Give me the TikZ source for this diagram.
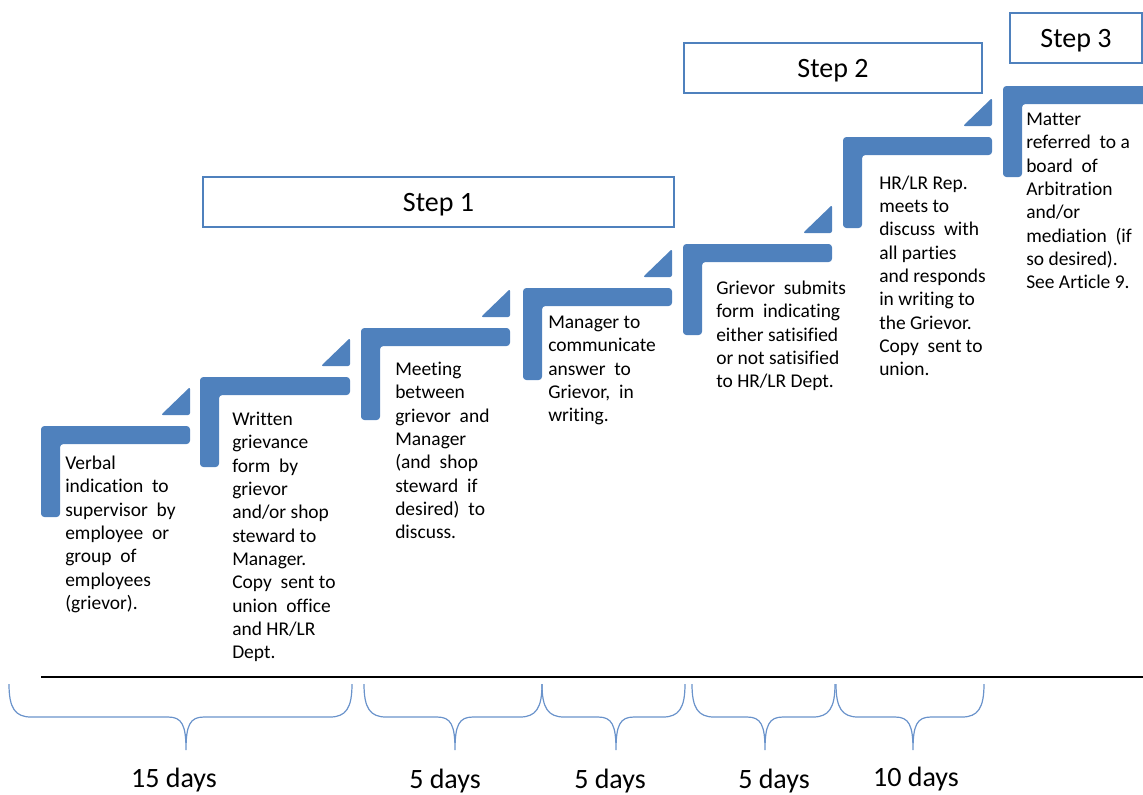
\documentclass[tikz,border=0pt]{standalone}
\usepackage{fontspec}
\setmainfont{Carlito}[Ligatures={NoCommon}]
\definecolor{ofblue}{HTML}{4F81BD}
\definecolor{brblue}{HTML}{6A93CB}
\newcommand\stairL[4]{%
  \fill[ofblue, rounded corners=2.5] (#1,#2) -- (#3,#2) -- (#3,#2+18) -- (#1+19,#2+18) -- (#1+19,#4) -- (#1,#4) -- cycle;}
\newcommand\stairT[2]{%
  \fill[ofblue, rounded corners=1.5] (#1-29,#2-11) -- (#1,#2-11) -- (#1,#2-39) -- cycle;}
\newcommand\brc[3]{%
  \draw[brace] (#1,684) .. controls (#1,708) and (#1+6,717) .. (#1+22,717) -- (#3-18,717)
     .. controls (#3-4,717) and (#3,725) .. (#3,750)
     .. controls (#3,725) and (#3+4,717) .. (#3+18,717) -- (#2-22,717)
     .. controls (#2-6,717) and (#2,708) .. (#2,684);}
\newcommand\fl{\rule{0pt}{11pt}}
\begin{document}
\begin{tikzpicture}[x=0.75pt,y=-0.75pt,
  txt/.style={anchor=north west, inner sep=0pt, align=left, font=\fontsize{14.6}{17.5}\selectfont},
  stepbox/.style={draw=ofblue, line width=0.8pt, fill=white, minimum height=37.5pt, inner sep=0pt,
     text height=15pt, text depth=1.2pt, font=\fontsize{21}{25}\selectfont},
  dayslbl/.style={anchor=base, inner sep=0pt, font=\fontsize{21}{25}\selectfont},
  brace/.style={draw=brblue, line width=0.9pt}]
\useasboundingbox (0,0) rectangle (1143,794);
\clip (0,0) rectangle (1143,794);
% stairs
\stairL{41}{426}{190}{517}   \stairT{190}{426}
\stairL{200}{377}{350}{467}  \stairT{350}{377}
\stairL{361}{328}{510}{420}  \stairT{510}{328}
\stairL{523}{288}{672}{380}  \stairT{672}{288}
\stairL{683}{244}{832}{335}  \stairT{832}{244}
\stairL{843}{137}{992}{228}  \stairT{992}{137}
\stairL{1003}{86}{1160}{177}
% step boxes
\node[stepbox, minimum width=353.25pt] (s1) at (438.5,202) {Step 1};
\node[stepbox, minimum width=223.5pt] (s2) at (833,68) {Step 2};
\node[stepbox, minimum width=99pt] (s3) at (1076,38) {Step 3};
% texts
\node[txt] (t1) at (65,454.6) {\fl Verbal\\indication\ \ to\\supervisor\ \ by\\employee\ \ or\\group\ \ of\\employees\\(grievor).};
\node[txt] (t2) at (232,410.6) {\fl Written\\grievance\\form\ \ by\\grievor\\and/or shop\\steward to\\Manager.\\Copy\ \ sent to\\union\ \ office\\and HR/LR\\Dept.};
\node[txt] (t3) at (395,360.6) {\fl Meeting\\between\\grievor\ \ and\\Manager\\(and\ \ shop\\steward\ \ if\\desired)\ \ to\\discuss.};
\node[txt] (t4) at (548,313.6) {\fl Manager to\\communicate\\answer\ \ to\\Grievor,\ \ in\\writing.};
\node[txt] (t5) at (716,279.6) {\fl Grievor\ \ submits\\form\ \ indicating\\either satisified\\or not satisified\\to HR/LR Dept.};
\node[txt] (t6) at (879,174.3) {\fl HR/LR Rep.\\meets to\\discuss\ \ with\\all parties\\and responds\\in writing to\\the Grievor.\\Copy\ \ sent to\\union.};
\node[txt] (t7) at (1026,110.6) {\fl Matter\\referred\ \ to a\\board\ \ of\\Arbitration\\and/or\\mediation\ \ (if\\so desired).\\See Article 9.};
% timeline
\draw[line width=1.9pt] (41,677) -- (1150,677);
% braces
\brc{9}{352}{186}
\brc{364}{542}{455}
\brc{542}{685}{616}
\brc{692}{835}{765}
\brc{836}{984}{913}
% day labels
\node[dayslbl] (d1) at (174,787) {15 days};
\node[dayslbl] (d2) at (445,788) {5 days};
\node[dayslbl] (d3) at (610,788) {5 days};
\node[dayslbl] (d4) at (774,788) {5 days};
\node[dayslbl] (d5) at (916,786) {10 days};
\end{tikzpicture}
\end{document}
